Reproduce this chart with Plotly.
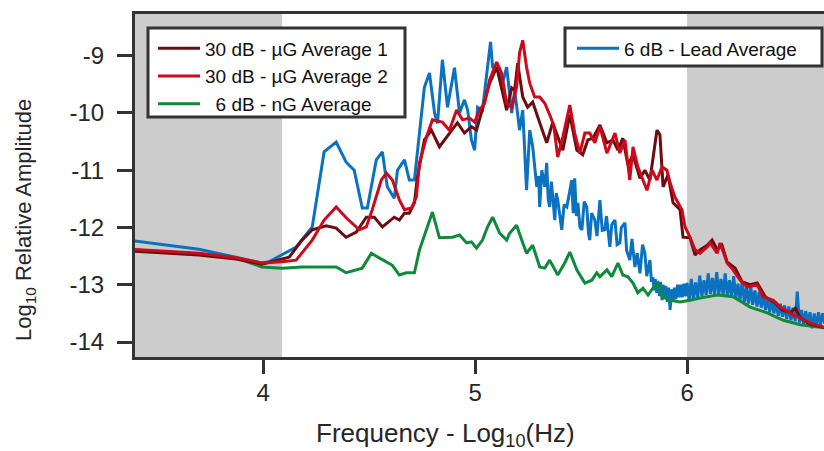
import plotly.graph_objects as go

# ---------------- data (log10 frequency, log10 relative amplitude) ----------------
lead_x = [3.38, 3.697, 3.872, 3.995, 4.028, 4.156, 4.232, 4.288, 4.345, 4.392, 4.430, 4.468, 4.492,
          4.534, 4.563, 4.586, 4.619, 4.634, 4.667, 4.690, 4.714, 4.738, 4.761, 4.785, 4.809, 4.823,
          4.846, 4.870, 4.903, 4.927, 4.950, 4.965, 4.983, 4.998, 5.012, 5.035, 5.059, 5.073, 5.083,
          5.106, 5.130, 5.149, 5.173, 5.187, 5.210, 5.225,
          5.243, 5.258, 5.272, 5.28, 5.291, 5.30, 5.305, 5.315, 5.329, 5.338, 5.345, 5.352, 5.36,
          5.376, 5.383, 5.390, 5.40, 5.409, 5.42, 5.433, 5.445, 5.456, 5.463, 5.470, 5.478, 5.485,
          5.495, 5.504, 5.515, 5.527, 5.535, 5.541, 5.55, 5.565, 5.575, 5.589, 5.60, 5.612, 5.62,
          5.636, 5.645, 5.660, 5.670, 5.683, 5.69, 5.707, 5.715, 5.730, 5.74, 5.754, 5.765, 5.778,
          5.79, 5.801, 5.81, 5.825, 5.832,
          5.839, 5.845, 5.85, 5.857, 5.863, 5.87, 5.875, 5.882, 5.887, 5.895, 5.90, 5.907, 5.913,
          5.92, 5.927, 5.934, 5.94, 5.947, 5.955, 5.962, 5.97, 5.977, 5.985, 5.992,
          6.00, 6.01, 6.02, 6.03, 6.04, 6.05, 6.06, 6.07, 6.08, 6.09, 6.10, 6.11, 6.12, 6.13, 6.14,
          6.15, 6.16, 6.17, 6.18, 6.19, 6.20, 6.21, 6.22, 6.23, 6.24, 6.25, 6.26, 6.27, 6.28, 6.29,
          6.30, 6.31, 6.32, 6.33, 6.34, 6.35, 6.36, 6.37, 6.38, 6.39, 6.40, 6.41, 6.42, 6.43, 6.44,
          6.45, 6.46, 6.47, 6.48, 6.49, 6.50, 6.51, 6.52, 6.53, 6.54, 6.55, 6.56, 6.57, 6.58, 6.59,
          6.60, 6.61, 6.62, 6.63, 6.64, 6.65, 6.66]
lead_y = [-12.23, -12.38, -12.52, -12.62, -12.60, -12.34, -11.99, -10.68, -10.51, -10.86, -11.00, -11.66, -11.66,
          -10.82, -10.68, -11.29, -11.49, -11.00, -10.82, -11.17, -11.17, -10.30, -9.55, -9.30, -10.00, -10.18,
          -9.07, -9.90, -9.21, -10.00, -9.77, -9.95, -10.47, -10.65, -9.90, -9.95, -9.20, -8.76, -9.20,
          -9.25, -9.48, -9.20, -10.00, -9.60, -10.30, -9.95,
          -11.35, -10.30, -10.59, -10.95, -11.29, -11.10, -11.64, -11.00, -11.29, -10.87, -11.50, -11.64, -11.20,
          -11.87, -11.40, -11.52, -11.85, -12.04, -11.60, -11.64, -11.40, -11.17, -11.75, -11.14, -11.80, -11.57,
          -12.00, -12.04, -11.55, -11.64, -12.10, -12.22, -11.75, -11.87, -12.15, -11.52, -12.05, -12.04, -11.80,
          -12.34, -11.95, -11.87, -12.30, -12.27, -12.00, -11.92, -12.40, -12.57, -12.20, -12.69, -12.45, -12.80,
          -12.30, -12.45, -12.85, -12.57, -12.95,
          -12.87, -13.10, -12.90, -13.14, -12.95, -13.20, -12.95, -13.27, -13.00, -13.25, -13.02, -13.30, -13.05,
          -13.44, -13.08, -13.30, -13.05, -13.25, -13.00, -13.22, -13.00, -13.22, -12.98, -13.20,
          -12.97, -13.28, -12.90, -13.26, -12.96, -13.22, -12.84, -13.20, -12.92, -13.18, -12.80, -13.16, -12.88,
          -13.18, -12.78, -13.16, -12.90, -13.18, -12.80, -13.20, -12.92, -13.21, -12.85, -13.24, -12.98, -13.26,
          -12.94, -13.30, -13.04, -13.33, -13.02, -13.35, -13.10, -13.38, -13.12, -13.40, -13.16, -13.44, -13.22,
          -13.48, -13.25, -13.50, -13.30, -13.54, -13.33, -13.56, -13.36, -13.60, -13.38, -13.62, -13.40, -13.64,
          -13.12, -13.66, -13.44, -13.70, -13.46, -13.72, -13.48, -13.76, -13.50, -13.74, -13.48, -13.70, -13.50,
          -13.68, -13.55]

avg1_x = [3.38, 3.697, 3.872, 3.995, 4.123, 4.184, 4.232, 4.298, 4.345, 4.392, 4.440, 4.487, 4.525, 4.563,
          4.619, 4.643, 4.667, 4.690, 4.714, 4.728, 4.761, 4.794, 4.832, 4.865, 4.917, 4.950, 4.983, 5.007,
          5.035, 5.069, 5.102, 5.125, 5.149, 5.173, 5.187, 5.201, 5.225, 5.248, 5.272, 5.305, 5.338, 5.366,
          5.390, 5.414, 5.447, 5.480, 5.508, 5.532, 5.556, 5.589, 5.622, 5.650, 5.674, 5.697, 5.721, 5.745,
          5.778, 5.801, 5.825, 5.858, 5.872, 5.887, 5.910, 5.934, 5.967, 5.981, 6.014, 6.038, 6.061, 6.095,
          6.118, 6.142, 6.165, 6.189, 6.227, 6.260, 6.298, 6.331, 6.369, 6.416, 6.449, 6.487, 6.511, 6.534,
          6.582, 6.643, 6.66]
avg1_y = [-12.41, -12.48, -12.55, -12.64, -12.52, -12.22, -12.04, -11.97, -12.01, -12.17, -12.08, -11.82, -11.82, -11.99,
          -11.82, -11.87, -11.75, -11.75, -11.57, -11.12, -10.47, -10.30, -10.59, -10.42, -10.17, -10.35, -10.24, -10.30,
          -9.95, -9.48, -9.20, -9.55, -9.95, -9.56, -9.60, -9.13, -9.72, -9.90, -9.81, -10.17, -10.52, -10.17,
          -10.42, -10.65, -10.03, -10.65, -10.73, -10.47, -10.44, -10.21, -10.52, -10.47, -10.65, -10.44, -10.91, -10.73,
          -11.14, -11.00, -11.17, -10.30, -10.38, -11.29, -11.08, -11.57, -11.69, -12.17, -12.18, -12.48, -12.39, -12.31,
          -12.22, -12.39, -12.31, -12.60, -12.71, -12.95, -13.00, -12.97, -13.21, -13.32, -13.44, -13.49, -13.41, -13.58,
          -13.69, -13.75, -13.76]

avg2_x = [3.38, 3.697, 3.872, 3.995, 4.090, 4.156, 4.232, 4.288, 4.345, 4.392, 4.454, 4.487, 4.515, 4.558,
          4.582, 4.610, 4.643, 4.667, 4.700, 4.723, 4.738, 4.771, 4.799, 4.846, 4.879, 4.913, 4.941, 4.974,
          4.998, 5.021, 5.045, 5.069, 5.102, 5.125, 5.149, 5.173, 5.196, 5.210, 5.225, 5.243, 5.258, 5.281,
          5.305, 5.329, 5.352, 5.371, 5.390, 5.414, 5.447, 5.470, 5.494, 5.518, 5.541, 5.565, 5.589, 5.622,
          5.660, 5.683, 5.707, 5.730, 5.745, 5.768, 5.792, 5.811, 5.835, 5.858, 5.882, 5.905, 5.920, 5.943,
          5.976, 5.991, 6.014, 6.038, 6.061, 6.095, 6.109, 6.142, 6.156, 6.189, 6.217, 6.251, 6.284, 6.331,
          6.359, 6.407, 6.440, 6.501, 6.534, 6.582, 6.643, 6.66]
avg2_y = [-12.38, -12.45, -12.53, -12.62, -12.60, -12.57, -12.22, -11.87, -11.64, -11.83, -12.04, -11.99, -11.69, -11.17,
          -11.05, -11.17, -11.52, -11.69, -11.66, -11.47, -10.87, -10.42, -10.12, -10.16, -10.30, -9.95, -10.12, -10.09,
          -10.16, -9.95, -9.83, -9.42, -9.11, -9.30, -9.83, -9.90, -9.55, -8.95, -8.73, -9.20, -9.48, -9.72,
          -9.72, -9.83, -10.03, -10.21, -10.77, -10.42, -9.86, -10.35, -10.70, -10.35, -10.35, -10.52, -10.24, -10.70,
          -10.35, -10.70, -10.47, -11.17, -10.59, -10.94, -11.17, -11.35, -11.00, -11.17, -10.94, -11.00, -11.22, -11.47,
          -11.69, -11.99, -12.17, -12.39, -12.45, -12.34, -12.27, -12.45, -12.27, -12.62, -12.74, -12.92, -13.04, -13.00,
          -13.21, -13.27, -13.39, -13.53, -13.58, -13.67, -13.74, -13.75]

ng_x = [3.38, 3.697, 3.872, 3.995, 4.090, 4.184, 4.345, 4.392, 4.468, 4.511, 4.548, 4.610, 4.643, 4.676,
        4.714, 4.738, 4.799, 4.832, 4.894, 4.927, 4.960, 4.983, 5.007, 5.035, 5.059, 5.083, 5.116, 5.149,
        5.163, 5.196, 5.220, 5.243, 5.272, 5.305, 5.329, 5.352, 5.390, 5.423, 5.447, 5.480, 5.518, 5.551,
        5.574, 5.589, 5.622, 5.645, 5.674, 5.697, 5.721, 5.745, 5.768, 5.792, 5.816, 5.839, 5.863, 5.887,
        5.920, 5.967, 6.014, 6.061, 6.142, 6.217, 6.298, 6.378, 6.454, 6.534, 6.643, 6.66]
ng_y = [-12.39, -12.46, -12.53, -12.69, -12.71, -12.69, -12.69, -12.79, -12.71, -12.45, -12.53, -12.66, -12.83, -12.79,
        -12.79, -12.39, -11.73, -12.18, -12.17, -12.13, -12.27, -12.25, -12.36, -12.22, -11.99, -11.82, -12.10, -12.22,
        -12.10, -11.96, -12.22, -12.45, -12.31, -12.69, -12.71, -12.57, -12.83, -12.62, -12.43, -12.74, -12.97, -12.92,
        -12.79, -12.86, -12.74, -12.86, -12.62, -12.83, -12.86, -12.97, -13.14, -13.06, -13.18, -13.06, -12.97, -13.21,
        -13.27, -13.30, -13.27, -13.23, -13.18, -13.21, -13.39, -13.49, -13.62, -13.70, -13.75, -13.76]

names = ["30 dB - µG Average 1", "30 dB - µG Average 2", "\u00a0\u00a06 dB - nG Average", "6 dB - Lead Average"]
colors = ["#6b0c10", "#cc0a1a", "#0e8a3a", "#0a72c0"]
x_ticks = [4, 5, 6]
y_ticks = [-14, -13, -12, -11, -10, -9]
x_range = [3.396, 6.646]
y_range = [-14.262, -8.271]
shade_left = [x_range[0], 4.09]
shade_right = [6.0, x_range[1]]

FONT = "Arial, 'Liberation Sans', sans-serif"
INK = "#262626"
FRAME = "#333333"

fig = go.Figure()
fig.add_trace(go.Scatter(x=lead_x, y=lead_y, mode="lines", name=names[3],
                         line=dict(color=colors[3], width=3), legend="legend2"))
fig.add_trace(go.Scatter(x=ng_x, y=ng_y, mode="lines", name=names[2],
                         line=dict(color=colors[2], width=3), legendrank=3))
fig.add_trace(go.Scatter(x=avg1_x, y=avg1_y, mode="lines", name=names[0],
                         line=dict(color=colors[0], width=3), legendrank=1))
fig.add_trace(go.Scatter(x=avg2_x, y=avg2_y, mode="lines", name=names[1],
                         line=dict(color=colors[1], width=3), legendrank=2))

# shaded bands
for x0, x1 in (shade_left, shade_right):
    fig.add_shape(type="rect", xref="x", yref="paper", x0=x0, x1=x1, y0=0, y1=1,
                  fillcolor="#cccccc", line=dict(width=0), layer="below")

# legend boxes
W, H = 824, 451
ML, MR, MT, MB = 135, 0, 14, 94
PW, PH = W - ML - MR, H - MT - MB
def px(xp):
    return (xp - ML) / PW
def py(yp):
    return 1 - (yp - MT) / PH

fig.add_shape(type="rect", xref="paper", yref="paper", x0=px(148), x1=px(405), y0=py(117), y1=py(28),
              fillcolor="white", line=dict(color=FRAME, width=3), layer="above")
fig.add_shape(type="rect", xref="paper", yref="paper", x0=px(565), x1=px(822), y0=py(66), y1=py(28),
              fillcolor="white", line=dict(color=FRAME, width=3), layer="above")

legend_common = dict(font=dict(family=FONT, size=19, color="#111111"), bgcolor="rgba(0,0,0,0)",
                     borderwidth=0, xanchor="left", yanchor="top", itemwidth=42, tracegroupgap=0)
fig.update_layout(
    legend=dict(x=px(153), y=py(29.5), **legend_common),
    legend2=dict(x=px(572), y=py(29.5), **legend_common),
)

fig.update_xaxes(range=x_range, tickvals=x_ticks, ticktext=[str(v) for v in x_ticks],
                 showline=True, linewidth=3, linecolor=FRAME, mirror=True,
                 ticks="outside", ticklen=14, tickwidth=3, tickcolor=FRAME,
                 ticklabelstandoff=-2,
                 showgrid=False, zeroline=False,
                 tickfont=dict(family=FONT, size=24, color=INK))
fig.update_yaxes(range=y_range, tickvals=y_ticks, ticktext=[str(v) for v in y_ticks],
                 showline=True, linewidth=3, linecolor=FRAME, mirror=False,
                 ticks="outside", ticklen=15, tickwidth=3, tickcolor=FRAME,
                 ticklabelstandoff=8,
                 showgrid=False, zeroline=False,
                 tickfont=dict(family=FONT, size=24, color=INK))

fig.add_annotation(text="Log<sub>10</sub> Relative Amplitude", xref="paper", yref="paper",
                   x=px(25), y=py(220), textangle=-90, showarrow=False,
                   font=dict(family=FONT, size=22, color=INK), xanchor="center", yanchor="middle")
fig.add_annotation(text="Frequency - Log<sub>10</sub>(Hz)", xref="paper", yref="paper",
                   x=px(445), y=py(434), showarrow=False,
                   font=dict(family=FONT, size=26, color=INK), xanchor="center", yanchor="middle")

fig.update_layout(width=W, height=H, margin=dict(l=ML, r=MR, t=MT, b=MB),
                  paper_bgcolor="white", plot_bgcolor="white", showlegend=True)

fig.write_html("out.html")
